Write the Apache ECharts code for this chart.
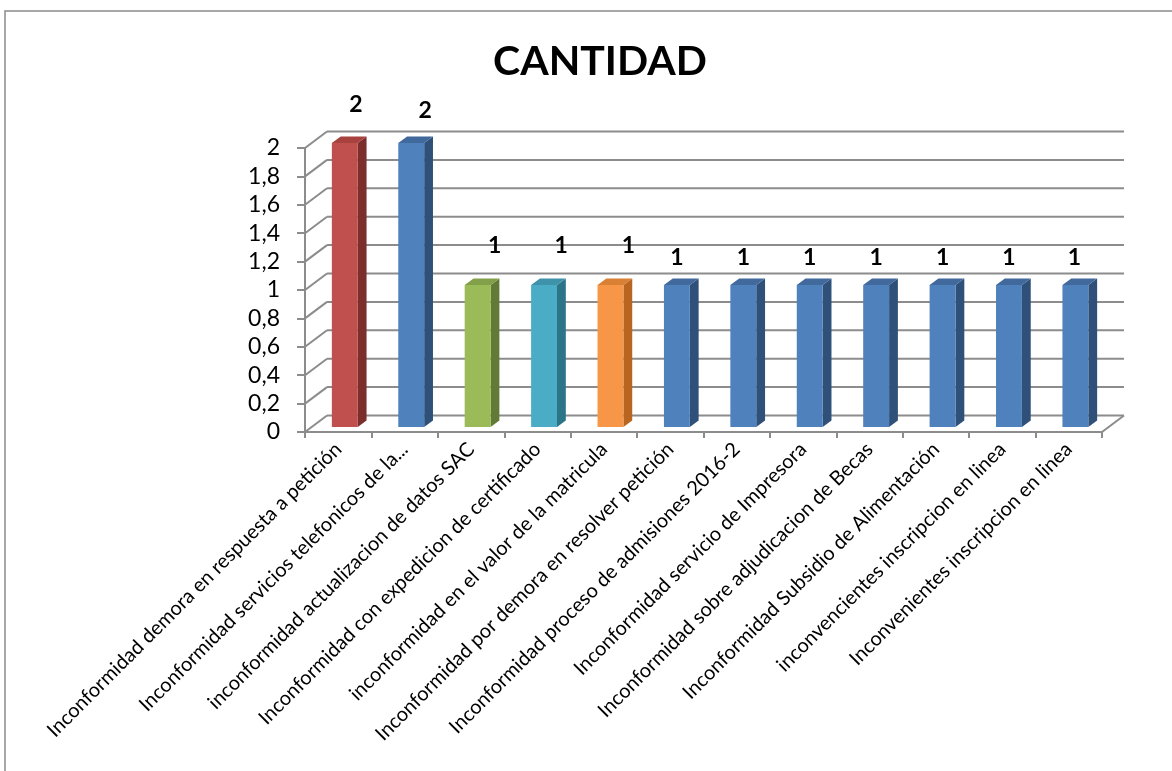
<!DOCTYPE html>
<html>
<head>
<meta charset="utf-8">
<script src="https://cdn.jsdelivr.net/npm/echarts@6/dist/echarts.min.js"></script>
<style>
html,body{margin:0;padding:0;background:#fff;}
#chart{width:1172px;height:771px;}
</style>
</head>
<body>
<div id="chart"></div>
<script>
const categories = [
  "Inconformidad demora en respuesta a petición",
  "Inconformidad servicios telefonicos de la...",
  "inconformidad actualizacion de datos SAC",
  "Inconformidad con expedicion de certificado",
  "inconformidad en el valor de la matricula",
  "Inconformidad por demora en resolver petición",
  "Inconformidad proceso de admisiones 2016-2",
  "Inconformidad servicio de Impresora",
  "Inconformidad sobre adjudicacion de Becas",
  "Inconformidad Subsidio de Alimentación",
  "inconvencientes inscripcion en linea",
  "Inconvenientes inscripcion en linea"
];
const values = [2, 2, 1, 1, 1, 1, 1, 1, 1, 1, 1, 1];
const wallLevels = [0, 0.2, 0.4, 0.6, 0.8, 1, 1.2, 1.4, 1.6, 1.8, 2];

// styling (not data)
const palette = {
  red:    ['#C0504D', '#A8423F', '#7B2E2C'],
  blue:   ['#4F81BD', '#41699B', '#2F5079'],
  green:  ['#9BBB59', '#82A04A', '#637A36'],
  teal:   ['#4BACC6', '#3E93AA', '#2C7487'],
  orange: ['#F79646', '#D98035', '#B8651F']
};
const barColors = ['red','blue','green','teal','orange','blue','blue','blue','blue','blue','blue','blue'];
const labelDx = [11, 14, 17, 17, 18, 0, 0, 0, 0, 0, 0, -1];
const labelDy = [-38, -32, -39, -39, -39, -27, -27, -27, -27, -27, -27, -27];
const DX = 22, DY = -16.5;   // depth offset of back wall
const FONT = 'Lato';

const chart = echarts.init(document.getElementById('chart'));

const option = {
  animation: false,
  backgroundColor: '#fff',
  title: {
    text: 'CANTIDAD',
    left: 595, top: 36, textAlign: 'center',
    textStyle: {fontFamily: FONT, fontWeight: 'bold', fontSize: 41, color: '#000'}
  },
  graphic: [{
    type: 'rect', shape: {x: 5, y: 11, width: 1300, height: 900},
    style: {fill: null, stroke: '#8a8a8a', lineWidth: 1.5}, silent: true, z: -10
  }],
  grid: {left: 305, right: 70, top: 148, bottom: 339, containLabel: false},
  xAxis: {
    type: 'category', data: categories,
    axisLine: {show: true, lineStyle: {color: '#8c8c8c', width: 2}},
    axisTick: {show: true, length: 6, lineStyle: {color: '#8c8c8c', width: 2}},
    axisLabel: {interval: 0, rotate: 45, margin: 14, fontFamily: FONT, fontSize: 20, color: '#000'},
    splitLine: {show: false}
  },
  yAxis: {
    type: 'value', min: 0, max: 2, interval: 0.2,
    axisLine: {show: true, lineStyle: {color: '#8c8c8c', width: 2}},
    axisTick: {show: true, length: 8, lineStyle: {color: '#8c8c8c', width: 2}},
    axisLabel: {margin: 25, fontFamily: FONT, fontSize: 23, color: '#000',
      formatter: v => (Math.round(v * 10) / 10).toString().replace('.', ',')},
    splitLine: {show: false}
  },
  series: [
    {
      type: 'custom', z: 1, silent: true,
      data: wallLevels.map(v => [0, v]),
      renderItem: function (params, api) {
        const cs = params.coordSys;
        const y = api.coord([0, api.value(1)])[1];
        const x0 = cs.x, x1 = cs.x + cs.width;
        const ls = {stroke: '#8c8c8c', lineWidth: 2};
        const children = [
          {type: 'line', shape: {x1: x0, y1: y, x2: x0 + DX, y2: y + DY}, style: ls},
          {type: 'line', shape: {x1: x0 + DX, y1: y + DY, x2: x1 + DX, y2: y + DY}, style: ls}
        ];
        if (params.dataIndex === 0) {
          children.push({type: 'line', shape: {x1: x1, y1: y, x2: x1 + DX, y2: y + DY}, style: ls});
        }
        return {type: 'group', children: children};
      }
    },
    {
      type: 'custom', z: 5, silent: true,
      data: values.map((v, i) => [i, v]),
      renderItem: function (params, api) {
        const i = params.dataIndex;
        const top = api.coord([api.value(0), api.value(1)]);
        const base = api.coord([api.value(0), 0]);
        const band = api.size([1, 0])[0];
        const w = band * 0.39;
        const fdx = DX * 0.3, fdy = DY * 0.3;
        const bdx = DX * 0.4, bdy = DY * 0.4;
        const cx = top[0] + fdx;
        const l = cx - w / 2, r = cx + w / 2;
        const t = top[1] + fdy, b = base[1] + fdy;
        const col = palette[barColors[i]];
        return {
          type: 'group',
          children: [
            {type: 'polygon', shape: {points: [[r, t], [r + bdx, t + bdy], [r + bdx, b + bdy], [r, b]]},
             style: {fill: col[2]}},
            {type: 'polygon', shape: {points: [[l, t], [l + bdx, t + bdy], [r + bdx, t + bdy], [r, t]]},
             style: {fill: col[1]}},
            {type: 'rect', shape: {x: l, y: t, width: w, height: b - t},
             style: {fill: col[0]}},
            {type: 'text', x: cx + labelDx[i], y: t + labelDy[i],
             style: {text: String(api.value(1)), fontFamily: FONT, fontWeight: 'bold', fontSize: 23,
                     fill: '#000', align: 'center', verticalAlign: 'middle'}}
          ]
        };
      }
    }
  ]
};
chart.setOption(option);
</script>
</body>
</html>
